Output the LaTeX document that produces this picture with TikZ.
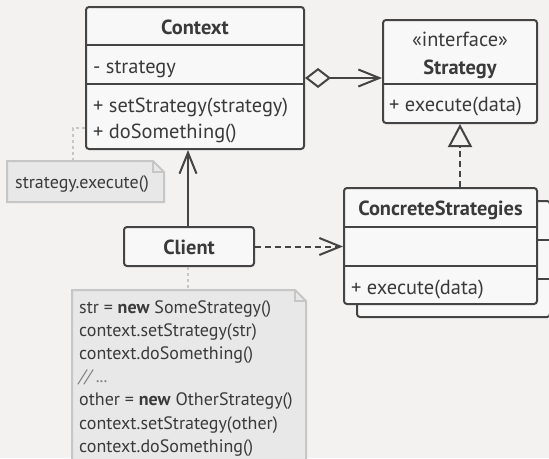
\documentclass[tikz,border=0pt]{standalone}
\usepackage{fontspec}
\setmainfont{PT Sans}
\usetikzlibrary{arrows.meta}
\definecolor{bg}{RGB}{244,241,241}
\definecolor{boxfill}{RGB}{248,248,248}
\definecolor{ink}{RGB}{68,68,68}
\definecolor{txtc}{RGB}{58,58,58}
\definecolor{notefill}{RGB}{232,232,232}
\definecolor{noteline}{RGB}{198,198,198}
\tikzset{
  umlbox/.style={draw=ink, fill=boxfill, line width=2pt, rounded corners=3pt, inner sep=0pt},
  divider/.style={draw=ink, line width=2pt},
  txt/.style={inner sep=0pt, text=txtc, font=\fontsize{20.4}{24}\selectfont},
  ttl/.style={txt, font=\fontsize{20.4}{24}\selectfont\bfseries},
  notetxt/.style={inner sep=0pt, text=txtc, font=\fontsize{18}{23.2}\selectfont},
  notebox/.style={draw=noteline, fill=notefill, line width=2pt},
  notelink/.style={draw=noteline, line width=2pt, dash pattern=on 3pt off 3pt},
  conn/.style={draw=ink, line width=2pt},
  openhead/.style={-{Straight Barb[length=21pt, width=17pt]}},
}
\begin{document}
\begin{tikzpicture}[x=1pt,y=-1pt]
\useasboundingbox[fill=bg] (0,0) rectangle (549,458);

% Context
\node[umlbox, minimum width=218pt, minimum height=142pt] (ctx) at (195,78) {};
\draw[divider] (ctx.west |- 0,45) -- (ctx.east |- 0,45);
\draw[divider] (ctx.west |- 0,84) -- (ctx.east |- 0,84);
\node[ttl, anchor=base] (ctxT) at (195,34) {Context};
\node[txt, anchor=base west] (ctxA) at (93,73) {- strategy};
\node[txt, anchor=base west] (ctxM1) at (93,112) {+ setStrategy(strategy)};
\node[txt, anchor=base west] (ctxM2) at (93,138) {+ doSomething()};

% Strategy
\node[umlbox, minimum width=154pt, minimum height=103pt] (str) at (460,71.5) {};
\draw[divider] (str.west |- 0,84) -- (str.east |- 0,84);
\node[txt, anchor=base] (strS) at (460,46) {«interface»};
\node[ttl, anchor=base] (strT) at (460,74) {Strategy};
\node[txt, anchor=base west] (strM) at (389,111) {+ execute(data)};

% Concrete strategies (stacked)
\node[umlbox, minimum width=193pt, minimum height=116pt] (conB) at (453.5,259) {};
\draw[divider] (conB.west |- 0,240) -- (conB.east |- 0,240);
\draw[divider] (conB.west |- 0,279) -- (conB.east |- 0,279);
\node[umlbox, minimum width=193pt, minimum height=116pt] (con) at (440.5,246) {};
\draw[divider] (con.west |- 0,227) -- (con.east |- 0,227);
\draw[divider] (con.west |- 0,266) -- (con.east |- 0,266);
\node[ttl, anchor=base] (conT) at (440.5,215) {ConcreteStrategies};
\node[txt, anchor=base west] (conM) at (351,294) {+ execute(data)};

% Client
\node[umlbox, minimum width=130pt, minimum height=39pt] (cli) at (189,246.5) {};
\node[ttl, anchor=base] (cliT) at (189,254) {Client};

% Notes
\draw[notebox] (7,161) -- (153,161) -- (164,172) -- (164,202) -- (7,202) -- cycle;
\draw[noteline, line width=2pt] (153,161) -- (153,172) -- (164,172);
\node[notetxt, anchor=base west] (n1) at (15,188) {strategy.execute()};
\coordinate (n1top) at (73,161);
\coordinate (n1bend) at (73,128);
\draw[notelink] (n1top) -- (n1bend) -- (ctx.west |- n1bend);

\draw[notebox] (72,470) -- (72,290) -- (295,290) -- (306,301) -- (306,470);
\draw[noteline, line width=2pt] (295,290) -- (295,301) -- (306,301);
\node[notetxt, anchor=base west] (c1) at (79,313.0) {str = \textbf{new} SomeStrategy()};
\node[notetxt, anchor=base west] (c2) at (79,336.2) {context.setStrategy(str)};
\node[notetxt, anchor=base west] (c3) at (79,359.4) {context.doSomething()};
\node[notetxt, anchor=base west, text=gray] (c4) at (79,382.6) {\itshape // ...};
\node[notetxt, anchor=base west] (c5) at (79,405.8) {other = \textbf{new} OtherStrategy()};
\node[notetxt, anchor=base west] (c6) at (79,429.0) {context.setStrategy(other)};
\node[notetxt, anchor=base west] (c7) at (79,452.2) {context.doSomething()};
\coordinate (n2top) at (188,290);
\draw[notelink] (cli.south -| n2top) -- (n2top);

% Connectors
\draw[conn, {Diamond[open, length=26pt, width=20pt, fill=bg]}-{Straight Barb[length=21pt, width=17pt]}] (ctx.east |- 0,78) -- (str.west |- 0,78);
\draw[conn, -{Triangle[open, length=23pt, width=24pt, fill=bg]}, dash pattern=on 6pt off 4pt] (con.north -| 460,0) -- (str.south -| 460,0);
\draw[conn, openhead] (cli.north -| 188,0) -- (ctx.south -| 188,0);
\draw[conn, openhead, dash pattern=on 6pt off 4pt] (cli.east) -- (con.west |- cli.east);
\end{tikzpicture}
\end{document}
